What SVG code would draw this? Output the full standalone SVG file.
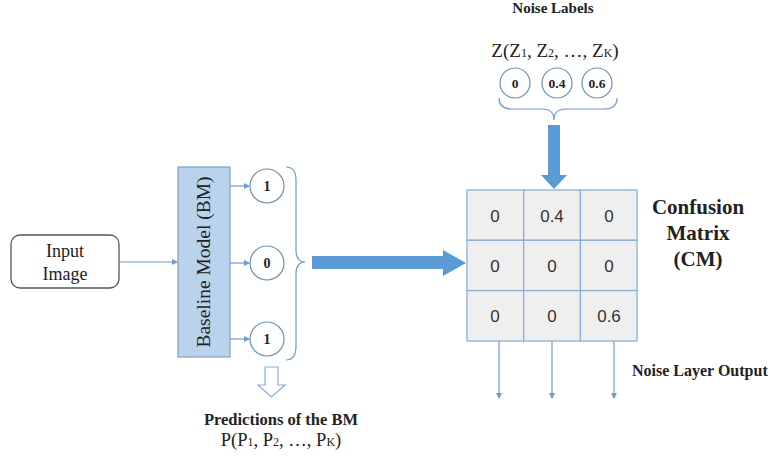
<svg xmlns="http://www.w3.org/2000/svg" width="770" height="461" viewBox="0 0 770 461">
<defs>
<style>
.serif{font-family:"Liberation Serif","Times New Roman",serif;fill:#222}
.bold{font-weight:bold}
.sans{font-family:"Liberation Sans",Arial,sans-serif;fill:#333}
.thin{stroke:#6d9ccd;stroke-width:1.2;fill:none}
.circ{fill:#fff;stroke:#6f90b0;stroke-width:1.2}
.cell{fill:#efefef;stroke:#8cb0d6;stroke-width:1.3}
.big{fill:#5b9bd5}
</style>
<marker id="ah" markerWidth="6" markerHeight="6" refX="5" refY="3" orient="auto" markerUnits="userSpaceOnUse">
<path d="M0,0 L6,3 L0,6 z" fill="#6d9ccd"/>
</marker>
</defs>
<rect width="770" height="461" fill="#fff"/>

<g id="input">
<rect x="11" y="235" width="108" height="53" rx="9" fill="#fff" stroke="#555" stroke-width="1.3"/>
<text class="serif" x="65" y="257" font-size="18" text-anchor="middle">Input</text>
<text class="serif" x="65" y="280" font-size="18" text-anchor="middle">Image</text>
</g>

<g id="bm">
<rect x="178" y="167" width="52" height="190" fill="#b9d3ed" stroke="#7d9fc8" stroke-width="1.2"/>
<text class="serif" transform="translate(210,262) rotate(-90)" font-size="19.5" text-anchor="middle">Baseline Model (BM)</text>
</g>

<g id="pred1"><circle class="circ" cx="267" cy="186" r="17"/><text class="serif bold" x="267" y="191" font-size="14" text-anchor="middle">1</text></g>
<g id="pred2"><circle class="circ" cx="267" cy="263" r="17"/><text class="serif bold" x="267" y="268" font-size="14" text-anchor="middle">0</text></g>
<g id="pred3"><circle class="circ" cx="267" cy="339" r="17"/><text class="serif bold" x="267" y="344" font-size="14" text-anchor="middle">1</text></g>

<g id="noise1"><circle class="circ" cx="515" cy="83" r="15"/><text class="serif bold" x="515" y="88" font-size="13.5" text-anchor="middle">0</text></g>
<g id="noise2"><circle class="circ" cx="557" cy="83" r="15"/><text class="serif bold" x="557" y="88" font-size="13.5" text-anchor="middle">0.4</text></g>
<g id="noise3"><circle class="circ" cx="597" cy="83" r="15"/><text class="serif bold" x="597" y="88" font-size="13.5" text-anchor="middle">0.6</text></g>

<g id="labels">
<text class="serif bold" x="553" y="13" font-size="15" text-anchor="middle">Noise Labels</text>
<text class="serif" x="555" y="57" font-size="19" text-anchor="middle">Z(Z<tspan font-size="12">1</tspan>, Z<tspan font-size="12">2</tspan>, …, Z<tspan font-size="12">K</tspan>)</text>
<text class="serif bold" x="281" y="425" font-size="16.5" text-anchor="middle">Predictions of the BM</text>
<text class="serif" x="281" y="446" font-size="18.5" text-anchor="middle">P(P<tspan font-size="12">1</tspan>, P<tspan font-size="12">2</tspan>, …, P<tspan font-size="12">K</tspan>)</text>
<text class="serif bold" x="698" y="214" font-size="21" text-anchor="middle">Confusion</text>
<text class="serif bold" x="698" y="240" font-size="21" text-anchor="middle">Matrix</text>
<text class="serif bold" x="698" y="266" font-size="21" text-anchor="middle">(CM)</text>
<text class="serif bold" x="632" y="376" font-size="16">Noise Layer Output</text>
</g>

<g id="matrix">
<rect class="cell" x="467" y="190" width="56.7" height="50.3"/>
<rect class="cell" x="523.7" y="190" width="56.7" height="50.3"/>
<rect class="cell" x="580.4" y="190" width="56.6" height="50.3"/>
<rect class="cell" x="467" y="240.3" width="56.7" height="50.3"/>
<rect class="cell" x="523.7" y="240.3" width="56.7" height="50.3"/>
<rect class="cell" x="580.4" y="240.3" width="56.6" height="50.3"/>
<rect class="cell" x="467" y="290.6" width="56.7" height="50.4"/>
<rect class="cell" x="523.7" y="290.6" width="56.7" height="50.4"/>
<rect class="cell" x="580.4" y="290.6" width="56.6" height="50.4"/>
<g class="sans" font-size="17" text-anchor="middle">
<text x="495" y="222">0</text><text x="552" y="222">0.4</text><text x="609" y="222">0</text>
<text x="495" y="272">0</text><text x="552" y="272">0</text><text x="609" y="272">0</text>
<text x="495" y="322">0</text><text x="552" y="322">0</text><text x="609" y="322">0.6</text>
</g>
</g>

<g id="connectors">
<line class="thin" x1="119" y1="262" x2="177" y2="262" marker-end="url(#ah)"/>
<line class="thin" x1="230" y1="186" x2="249" y2="186" marker-end="url(#ah)"/>
<line class="thin" x1="230" y1="263" x2="249" y2="263" marker-end="url(#ah)"/>
<line class="thin" x1="230" y1="339" x2="249" y2="339" marker-end="url(#ah)"/>
<path class="thin" stroke="#8aaed3" d="M286,167 Q296,167 296,180 L296,250 Q296,262 305,262 Q296,262 296,274 L296,346 Q296,360 286,360"/>
<path class="thin" stroke="#8aaed3" d="M499,98 Q499,109 512,109 L542,109 Q554,109 554,120 Q554,109 566,109 L604,109 Q617,109 617,98"/>
<path class="big" d="M312,256 L443,256 L443,250 L466,263 L443,276 L443,269 L312,269 z"/>
<path class="big" d="M548,125 L560,125 L560,175 L567,175 L554,189 L541,175 L548,175 z"/>
<path d="M265,367 L278,367 L278,385 L285,385 L271.5,397 L258,385 L265,385 z" fill="#fff" stroke="#8aaed3" stroke-width="1.2"/>
<line class="thin" x1="499" y1="341" x2="499" y2="398" marker-end="url(#ah)"/>
<line class="thin" x1="552" y1="341" x2="552" y2="398" marker-end="url(#ah)"/>
<line class="thin" x1="614" y1="341" x2="614" y2="398" marker-end="url(#ah)"/>
</g>
</svg>
